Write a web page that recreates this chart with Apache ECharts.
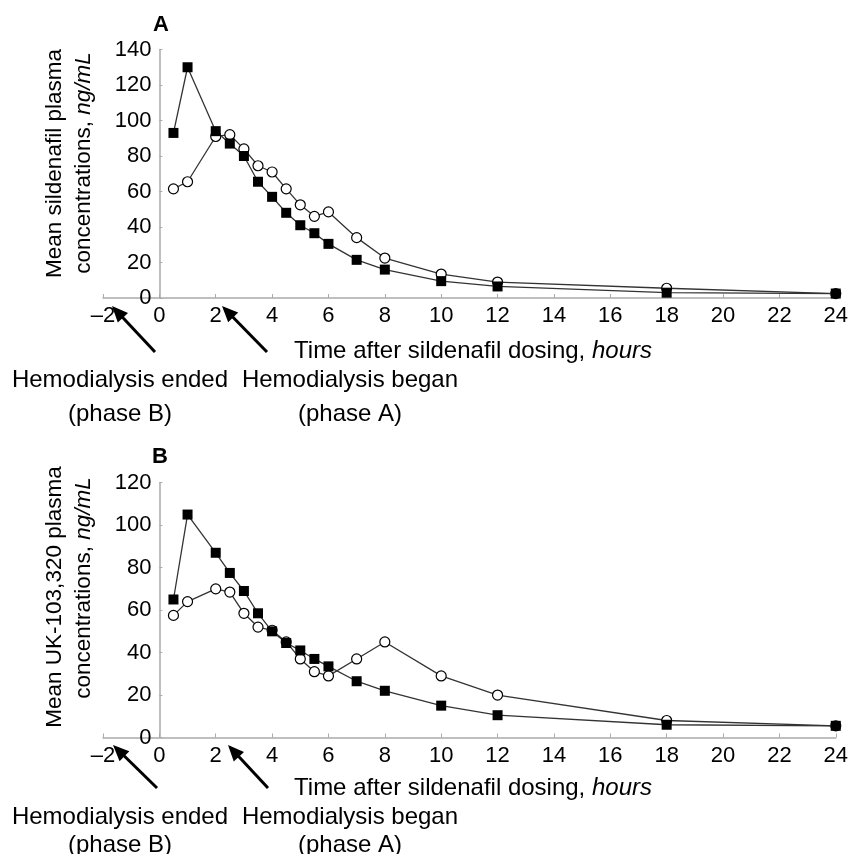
<!DOCTYPE html>
<html>
<head>
<meta charset="utf-8">
<script src="https://cdn.jsdelivr.net/npm/echarts@6/dist/echarts.min.js"></script>
<style>
html,body{margin:0;padding:0;background:#fff;}
#c{width:851px;height:854px;}
</style>
</head>
<body>
<div id="c"></div>
<script>
// ---- data ----
var hours = [0.5, 1, 2, 2.5, 3, 3.5, 4, 4.5, 5, 5.5, 6, 7, 8, 10, 12, 18, 24];
var sildenafilSquares = [93, 130, 94, 87, 80, 65.5, 57, 48, 41, 36.5, 30.5, 21.5, 16, 9.5, 6.5, 3, 2.5];
var sildenafilCircles = [61.5, 65.5, 91, 92, 84, 74.5, 71, 61.5, 52.5, 46, 48.5, 34, 22.5, 13.5, 9, 5.5, 2.5];
var ukSquares = [65, 105, 87, 77.5, 69, 58.5, 50, 44.5, 41, 37, 33.5, 26.5, 22, 15, 10.5, 6, 5.5];
var ukCircles = [57.5, 64, 70, 68.5, 58.5, 52, 50.5, 45, 37, 31, 29, 37, 45, 29, 20, 8, 5.5];
var xTicks = { min: -2, max: 24, interval: 2 };
var yTicksA = { min: 0, max: 140, interval: 20 };
var yTicksB = { min: 0, max: 120, interval: 20 };
var panelLabels = ['A', 'B'];
var yNamesA = ['Mean sildenafil plasma', 'concentrations, '];
var yNamesB = ['Mean UK-103,320 plasma', 'concentrations, '];
var unitText = 'ng/mL';
var xName = 'Time after sildenafil dosing, ';
var xUnit = 'hours';
var noteEnded = ['Hemodialysis ended', '(phase B)'];
var noteBegan = ['Hemodialysis began', '(phase A)'];

function pairs(xs, ys) { return xs.map(function (x, i) { return [x, ys[i]]; }); }

var FONT = 'Liberation Sans, Arial, Helvetica, sans-serif';
var GRID_LEFT = 103, GRID_W = 733;
var chart = echarts.init(document.getElementById('c'), null, { renderer: 'canvas' });

// y axis sits at x = 0 of the x scale
var yOffset = -((0 - xTicks.min) / (xTicks.max - xTicks.min)) * GRID_W;

function xAxisCfg(gi) {
  return {
    type: 'value', gridIndex: gi, min: xTicks.min, max: xTicks.max, interval: xTicks.interval,
    axisLine: { onZero: false, lineStyle: { color: '#aaaaaa', width: 1.5 } },
    axisTick: { show: true, inside: true, length: 4, lineStyle: { color: '#aaaaaa', width: 1 } },
    splitLine: { show: false },
    axisLabel: {
      color: '#000', fontSize: 22, fontFamily: FONT, margin: 7,
      formatter: function (v) { return v < 0 ? '\u2013' + Math.abs(v) : String(v); }
    }
  };
}
function yAxisCfg(gi, t) {
  return {
    type: 'value', gridIndex: gi, min: t.min, max: t.max, interval: t.interval,
    offset: yOffset,
    axisLine: { show: true, onZero: false, lineStyle: { color: '#aaaaaa', width: 1.5 } },
    axisTick: { show: true, inside: true, length: 3, lineStyle: { color: '#aaaaaa', width: 1 } },
    splitLine: { show: false },
    axisLabel: { color: '#000', fontSize: 22, fontFamily: FONT, margin: 8 }
  };
}
function lineSeries(xi, data, filled, z) {
  return {
    type: 'line', xAxisIndex: xi, yAxisIndex: xi, data: data,
    symbol: filled ? 'rect' : 'circle', symbolSize: 10, showAllSymbol: true,
    z: z, animation: false,
    lineStyle: { color: '#333', width: 1.3 },
    itemStyle: filled ? { color: '#000', borderColor: '#000', borderWidth: 0 }
                      : { color: '#fff', borderColor: '#000', borderWidth: 1.2 }
  };
}

function arrow(tx, ty, hx, hy) {
  var dx = hx - tx, dy = hy - ty, L = Math.sqrt(dx * dx + dy * dy);
  var ux = dx / L, uy = dy / L, hl = 16, hw = 7;
  var bx = hx - ux * hl, by = hy - uy * hl;
  return [
    { type: 'line', shape: { x1: tx, y1: ty, x2: bx + ux * 2, y2: by + uy * 2 }, style: { stroke: '#000', lineWidth: 3 } },
    { type: 'polygon', shape: { points: [[hx, hy], [bx - uy * hw, by + ux * hw], [bx + uy * hw, by - ux * hw]] }, style: { fill: '#000' } }
  ];
}
function txt(x, y, s, opt) {
  var o = {
    type: 'text', x: x, y: y,
    style: { text: s, fontSize: 24, fontFamily: FONT, fill: '#000', align: 'center', verticalAlign: 'middle' }
  };
  if (opt) { for (var k in opt) o.style[k] = opt[k]; }
  return o;
}
function richLine(x, y, a, b, rot, size) {
  size = size || 24;
  return {
    type: 'text', x: x, y: y, rotation: rot || 0,
    style: {
      text: '{n|' + a + '}' + (b ? '{i|' + b + '}' : ''),
      align: 'center', verticalAlign: 'middle',
      rich: {
        n: { fontSize: size, fontFamily: FONT, fill: '#000' },
        i: { fontSize: size, fontFamily: FONT, fill: '#000', fontStyle: 'italic' }
      }
    }
  };
}

var graphics = [];
graphics.push(txt(161, 25, panelLabels[0], { fontWeight: 'bold', fontSize: 22 }));
graphics.push(txt(160, 457, panelLabels[1], { fontWeight: 'bold', fontSize: 22 }));
graphics.push(richLine(55, 163.5, yNamesA[0], '', Math.PI / 2, 22.5));
graphics.push(richLine(84, 163, yNamesA[1], unitText, Math.PI / 2, 22.5));
graphics.push(richLine(55, 597, yNamesB[0], '', Math.PI / 2, 22.5));
graphics.push(richLine(84, 588, yNamesB[1], unitText, Math.PI / 2, 22.5));
graphics.push(richLine(473, 351, xName, xUnit));
graphics.push(richLine(473, 788, xName, xUnit));
graphics.push(txt(120, 380, noteEnded[0]));
graphics.push(txt(120, 414, noteEnded[1]));
graphics.push(txt(350, 380, noteBegan[0]));
graphics.push(txt(350, 414, noteBegan[1]));
graphics.push(txt(120, 817, noteEnded[0]));
graphics.push(txt(120, 845, noteEnded[1]));
graphics.push(txt(350, 817, noteBegan[0]));
graphics.push(txt(350, 845, noteBegan[1]));
graphics = graphics.concat(arrow(155, 352, 112, 306));
graphics = graphics.concat(arrow(267, 352, 222, 306));
graphics = graphics.concat(arrow(157, 788, 113, 745));
graphics = graphics.concat(arrow(268, 788, 228, 745));

chart.setOption({
  backgroundColor: '#fff',
  animation: false,
  grid: [
    { left: GRID_LEFT, width: GRID_W, top: 49.5, height: 248.5 },
    { left: GRID_LEFT, width: GRID_W, top: 482.7, height: 254.8 }
  ],
  xAxis: [xAxisCfg(0), xAxisCfg(1)],
  yAxis: [yAxisCfg(0, yTicksA), yAxisCfg(1, yTicksB)],
  series: [
    lineSeries(0, pairs(hours, sildenafilCircles), false, 2),
    lineSeries(0, pairs(hours, sildenafilSquares), true, 3),
    lineSeries(1, pairs(hours, ukCircles), false, 2),
    lineSeries(1, pairs(hours, ukSquares), true, 3)
  ],
  graphic: graphics
});
</script>
</body>
</html>
